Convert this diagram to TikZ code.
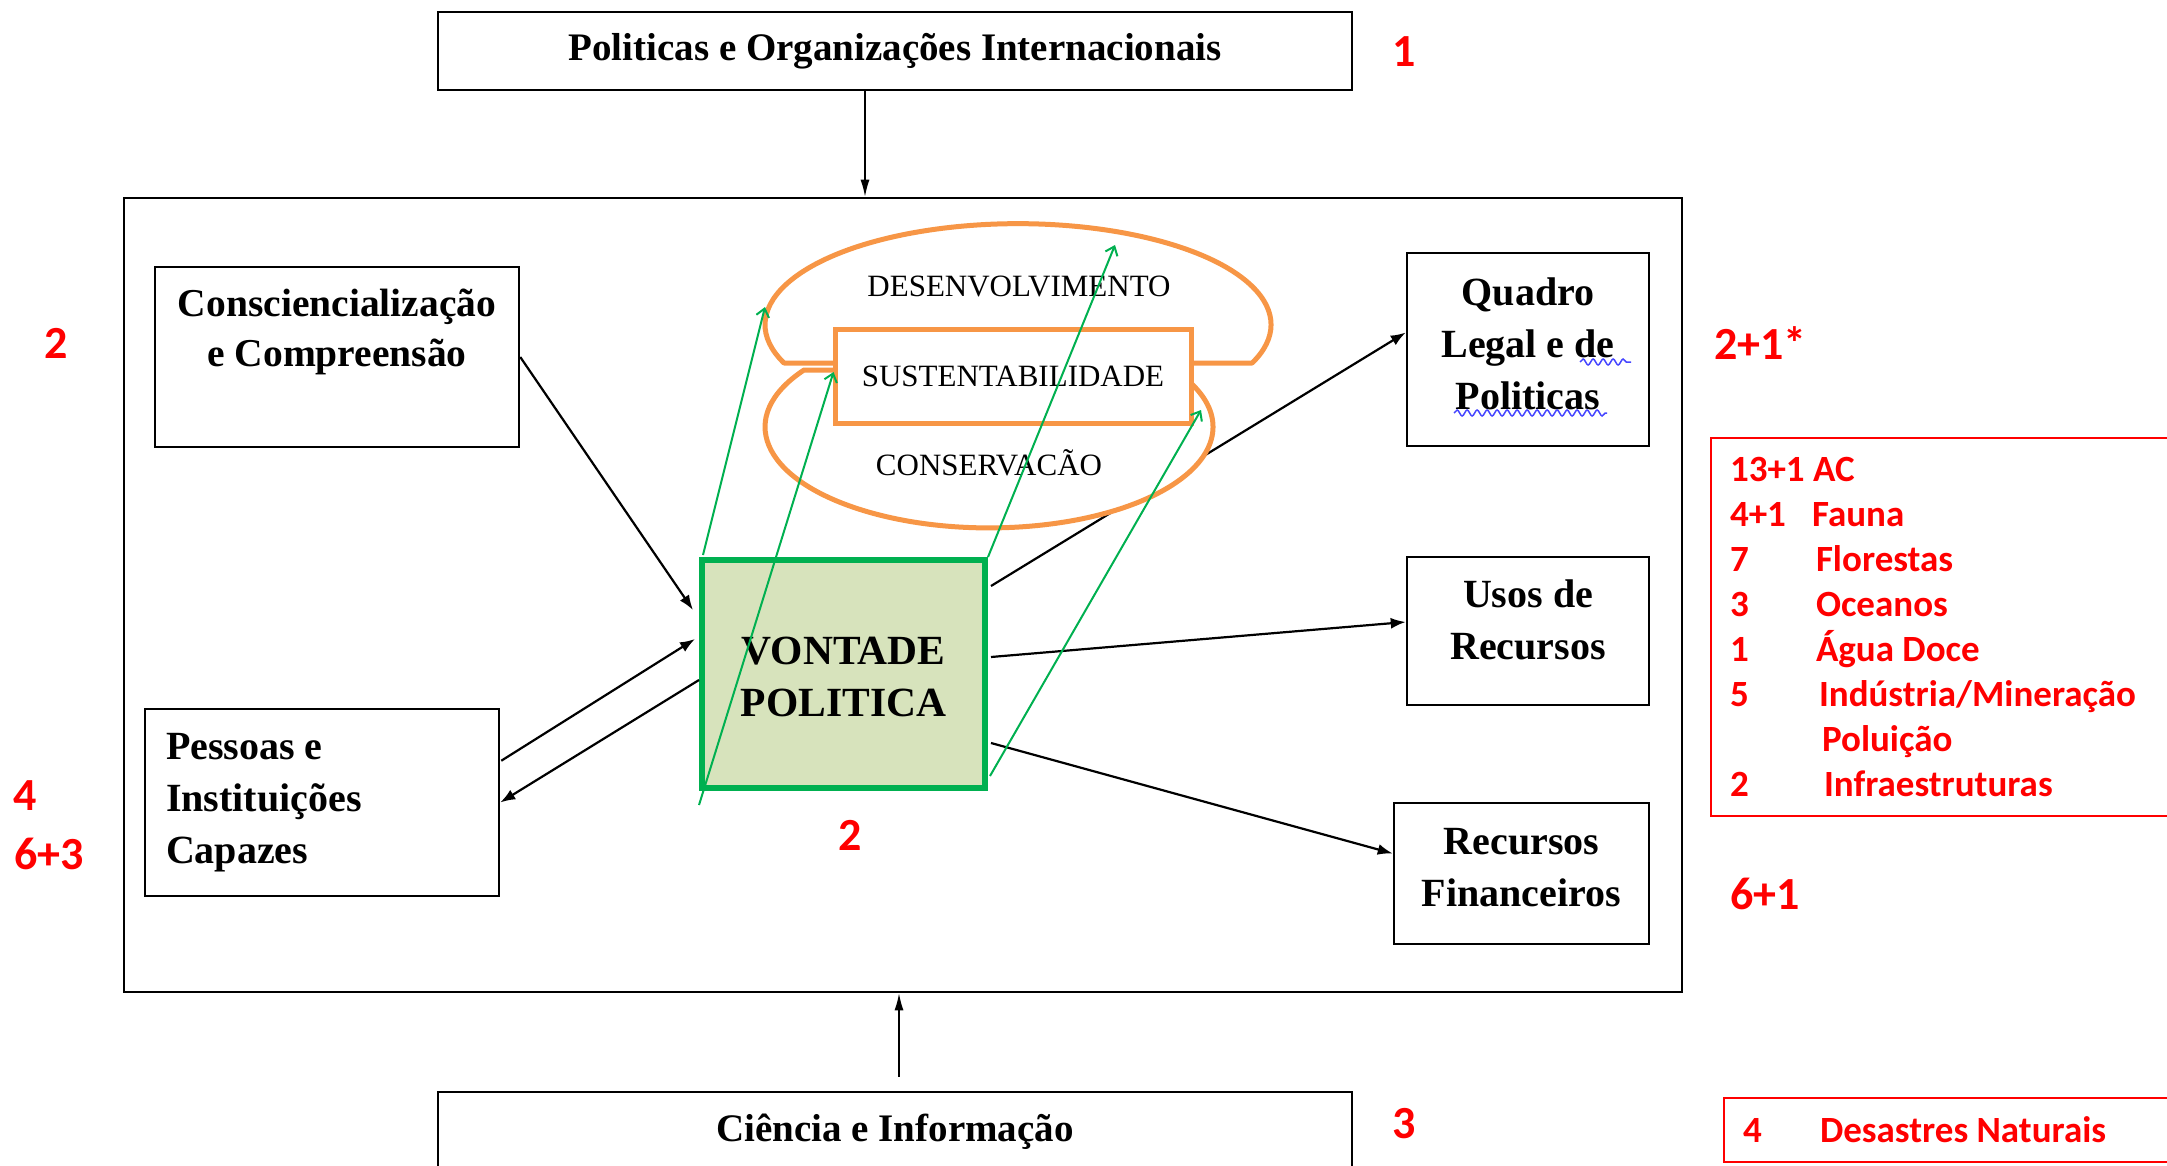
\documentclass[tikz,border=0pt]{standalone}
\usepackage{fontspec}
\setmainfont{Liberation Serif}
\newfontfamily\calibri{Carlito}
\usetikzlibrary{arrows.meta,calc,decorations.pathmorphing}

\definecolor{verde}{RGB}{0,176,80}
\definecolor{verdeclaro}{RGB}{215,227,188}
\definecolor{laranja}{RGB}{247,150,70}
\definecolor{vermelho}{RGB}{255,0,0}
\definecolor{azul}{RGB}{70,70,255}

% normal word spaces in nodes with a text width
\newcommand{\semespaco}{\spaceskip=0pt\relax}

\begin{document}
\begin{tikzpicture}[
    x = 1pt, y = -1pt,
    caixa/.style = {
      draw, line width = 2.5pt,
      inner sep = 0pt
    },
    rotulo/.style = {
      inner sep = 0pt, align = center,
      font = \fontsize{40}{52}\selectfont\bfseries
    },
    elipse/.style = {
      draw = laranja, line width = 5pt,
      fill = white, line join = round
    },
    seta/.style = {-{Latex[length = 15pt, width = 11pt]}, line width = 2.2pt},
    setafina/.style = {-{Latex[length = 17pt, width = 9pt]}, line width = 1.5pt},
    verdeseta/.style = {-{Straight Barb[length = 8pt, width = 13pt]}, draw = verde, line width = 2pt},
    numero/.style = {
      inner sep = 0pt, text = vermelho,
      font = \calibri\bfseries\fontsize{46}{50}\selectfont
    },
    lista/.style = {
      draw = vermelho, line width = 2pt,
      inner xsep = 19pt, inner ysep = 0pt,
      align = left, text = vermelho,
      font = \calibri\bfseries\fontsize{37}{45}\selectfont
    },
    onda/.style = {
      draw = azul, line width = 1.5pt, decorate,
      decoration = {snake, amplitude = 3pt, segment length = 10pt}
    }
  ]
  \useasboundingbox (0,0) rectangle (2167,1166);

  % The frame and the two outer boxes
  \node[caixa, minimum width = 1558pt, minimum height = 794pt] (painel) at (903,595) {};
  \node[caixa, rotulo, minimum width = 914pt, minimum height = 78pt,
        font = \fontsize{39}{45}\selectfont\bfseries] (intl) at (895,51)
        {Politicas e Organizações Internacionais};
  \node[caixa, rotulo, minimum width = 914pt, minimum height = 80pt,
        font = \fontsize{39}{45}\selectfont\bfseries] (ciencia) at (895,1132)
        {Ciência e Informação};

  % The boxes inside the frame
  \node[caixa, minimum width = 364pt, minimum height = 180pt] (consc) at (337,357) {};
  \node[rotulo, anchor = north, font = \fontsize{39.5}{50}\selectfont\bfseries]
        (consc-txt) at (337,289) {Consciencialização\\e Compreensão};
  \node[caixa, rotulo, align = left, text width = 312pt, inner xsep = 21pt,
        minimum height = 187pt] (pessoas) at (322,802.5) {\semespaco Pessoas e\\Instituições\\Capazes};
  \node[caixa, minimum width = 242pt, minimum height = 193pt] (quadro) at (1528,349.5) {};
  \node[rotulo] (quadro-txt) at (1528,344) {Quadro\\Legal e de\\Politicas};
  \node[caixa, minimum width = 242pt, minimum height = 148pt] (usos) at (1528,631) {};
  \node[rotulo] (usos-txt) at (1528,620) {Usos de\\Recursos};
  \node[caixa, minimum width = 255pt, minimum height = 141pt] (financas) at (1521.5,873.5) {};
  \node[rotulo] (financas-txt) at (1521.5,868) {Recursos\\Financeiros};
  \node[caixa, draw = verde, fill = verdeclaro, line width = 6pt,
        minimum width = 283pt, minimum height = 228pt] (vontade) at (843.5,674) {};
  \node[rotulo, font = \fontsize{41.5}{52}\selectfont\bfseries]
        (vontade-txt) at (843.5,677) {VONTADE\\POLITICA};

  % The spell-check marks
  \draw[onda] (1580,362) -- (1631,362);
  \draw[onda] (1454,413) -- (1607,413);

  % The black arrows
  \draw[setafina] ($(intl.south)+(-30,0)$) -- ($(painel.north)+(-38,0)$);
  \draw[setafina] ($(ciencia.north)+(4,-14)$) -- ($(painel.south)+(-4,0)$);
  \draw[seta] (consc.east) -- ($(vontade.north west)+(-6,53)$);
  \draw[seta] ($(pessoas.north east)+(1,53)$) -- ($(vontade.north west)+(-4,82)$);
  \draw[seta] ($(vontade.west)+(0,6)$) -- (pessoas.east);
  \draw[seta] ($(vontade.north east)+(3,29)$) -- ($(quadro.west)+(0,-17)$);
  \draw[seta] ($(vontade.east)+(3,-17)$) -- ($(usos.west)+(0,-9)$);
  \draw[seta] ($(vontade.east)+(3,69)$) -- ($(financas.west)+(0,-20)$);

  % The two halves round the middle box
  \draw[elipse] (835,363) -- (784,363)
    arc[start angle = 157.7, end angle = 382.3, x radius = 253, y radius = 101] -- (1191,363);
  \draw[elipse] (835,370) -- (804,370)
    arc[start angle = 214.3, end angle = -26.5, x radius = 224, y radius = 101];
  \node[draw = laranja, line width = 5pt, fill = white,
        minimum width = 356pt, minimum height = 94pt,
        font = \fontsize{31}{36}\selectfont] (sust) at (1013,376) {SUSTENTABILIDADE};
  \node[font = \fontsize{31}{36}\selectfont] (desenv) at (1019,286) {DESENVOLVIMENTO};
  \node[font = \fontsize{31}{36}\selectfont] (conserv) at (989,463) {CONSERVACÃO};

  % The green arrows
  \coordinate (g1) at (765,307);
  \coordinate (g3) at (1115,245);
  \coordinate (g4) at (1201,410);
  \draw[verdeseta] ($(vontade.north west)+(4,-2)$) -- (g1);
  \draw[verdeseta] ($(vontade.south west)+(0,14)$) -- ($(sust.west)+(1,-4)$);
  \draw[verdeseta] (vontade.north east) -- (g3);
  \draw[verdeseta] ($(vontade.south east)+(2,-15)$) -- (g4);

  % The red counts
  \node[numero] (n-intl) at (1404,52) {1};
  \node[numero] (n-consc) at (56,343) {2};
  \node[numero] (n-pessoas) at (25,796) {4};
  \node[numero, anchor = west] (n-pessoas-b) at (14,854) {6+3};
  \node[numero] (n-vontade) at (850,835) {2};
  \node[numero, anchor = west] (n-quadro) at (1714,343) {2+1*};
  \node[numero, anchor = west] (n-financas) at (1730,894) {6+1};
  \node[numero] (n-ciencia) at (1404,1124) {3};

  % The two red lists
  \node[lista, anchor = north west, minimum height = 378pt, text width = 451pt] (temas) at (1710,437)
    {\semespaco\makebox[83pt][l]{13+1}AC\\
     \makebox[82pt][l]{4+1}Fauna\\
     \makebox[86pt][l]{7}Florestas\\
     \makebox[86pt][l]{3}Oceanos\\
     \makebox[86pt][l]{1}Água Doce\\
     \makebox[89pt][l]{5}Indústria/Mineração\\
     \makebox[92pt][l]{}Poluição\\
     \makebox[94pt][l]{2}Infraestruturas};
  \node[lista, anchor = north west, minimum height = 64pt, text width = 440pt] (desastres) at (1723,1097)
    {\semespaco\makebox[77pt][l]{4}Desastres Naturais};
\end{tikzpicture}
\end{document}
